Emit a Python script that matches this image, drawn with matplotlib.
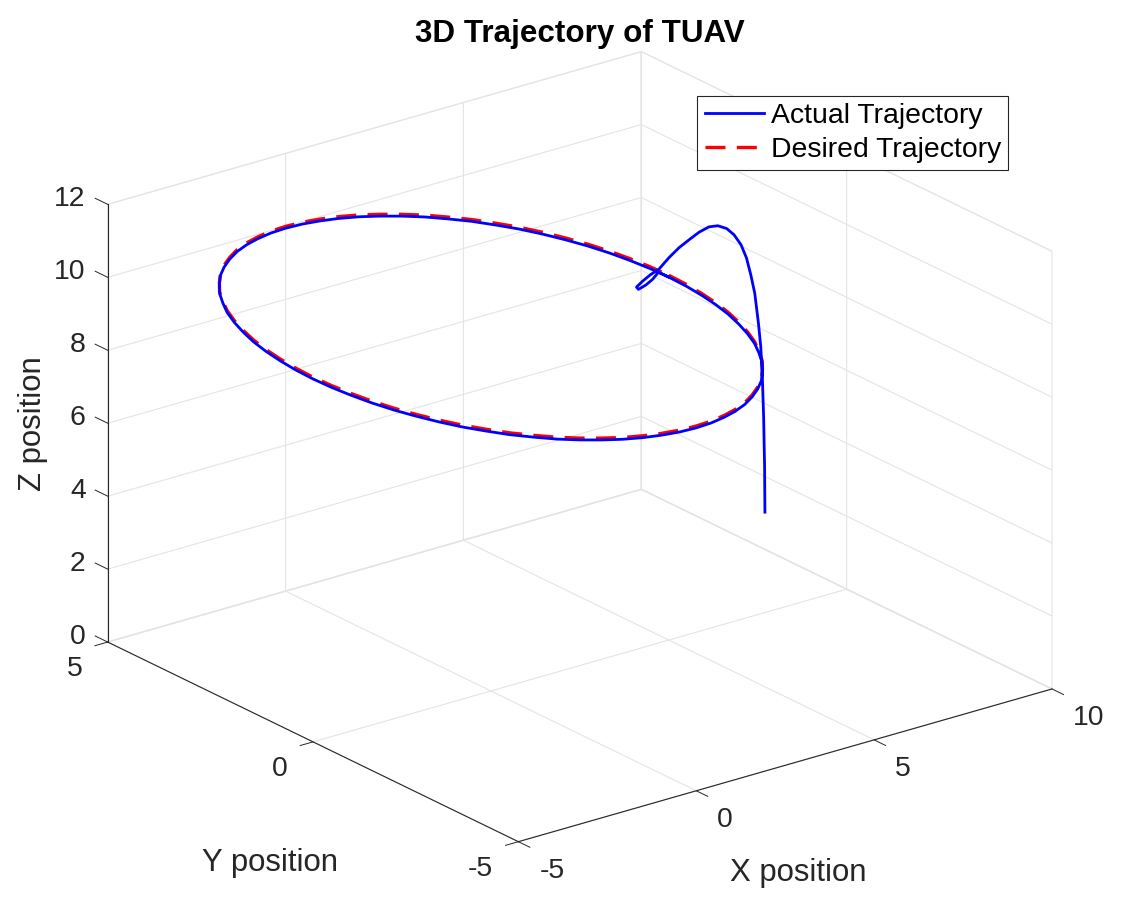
import numpy as np
import matplotlib
matplotlib.use("Agg")
import matplotlib.pyplot as plt
from matplotlib.transforms import ScaledTranslation
from mpl_toolkits.mplot3d import Axes3D

plt.rcParams['font.family'] = ['Liberation Sans', 'DejaVu Sans']
plt.rcParams['axes.unicode_minus'] = False

# desired circle
desired_x = [5, 4.98, 4.92, 4.83, 4.70, 4.53, 4.33, 4.10, 3.83, 3.54, 3.21, 2.87, 2.50, 2.11, 1.71, 1.29, 0.87, 0.44,
             0, -0.44, -0.87, -1.29, -1.71, -2.11, -2.50, -2.87, -3.21, -3.54, -3.83, -4.10, -4.33, -4.53, -4.70, -4.83, -4.92, -4.98,
             -5, -4.98, -4.92, -4.83, -4.70, -4.53, -4.33, -4.10, -3.83, -3.54, -3.21, -2.87, -2.50, -2.11, -1.71, -1.29, -0.87, -0.44,
             0, 0.44, 0.87, 1.29, 1.71, 2.11, 2.50, 2.87, 3.21, 3.54, 3.83, 4.10, 4.33, 4.53, 4.70, 4.83, 4.92, 4.98, 5]
desired_y = [0, -0.44, -0.87, -1.29, -1.71, -2.11, -2.50, -2.87, -3.21, -3.54, -3.83, -4.10, -4.33, -4.53, -4.70, -4.83, -4.92, -4.98,
             -5, -4.98, -4.92, -4.83, -4.70, -4.53, -4.33, -4.10, -3.83, -3.54, -3.21, -2.87, -2.50, -2.11, -1.71, -1.29, -0.87, -0.44,
             0, 0.44, 0.87, 1.29, 1.71, 2.11, 2.50, 2.87, 3.21, 3.54, 3.83, 4.10, 4.33, 4.53, 4.70, 4.83, 4.92, 4.98,
             5, 4.98, 4.92, 4.83, 4.70, 4.53, 4.33, 4.10, 3.83, 3.54, 3.21, 2.87, 2.50, 2.11, 1.71, 1.29, 0.87, 0.44, 0]
desired_z = [10] * len(desired_x)

# climb to the circle, with the small hook at the end
climb_x = [9.63, 9.54, 9.49, 9.48, 9.34, 9.09, 8.79, 8.46, 8.20, 7.92, 7.63, 7.46, 7.14, 6.81, 6.44, 6.13, 5.78, 5.37, 4.90,
           4.64, 4.32, 4.00, 3.95, 4.24, 4.57, 5.00]
climb_y = [1.67, 1.60, 1.58, 1.60, 1.52, 1.36, 1.19, 1.00, 0.88, 0.77, 0.69, 0.72, 0.66, 0.59, 0.51, 0.48, 0.43, 0.32, 0.16,
           0.13, 0.05, -0.08, -0.17, -0.10, 0.02, 0.25]
climb_z = [1.3, 2.6, 4, 5, 6, 6.8, 7.8, 8.5, 9.1, 9.6, 10, 10.2, 10.4, 10.5, 10.5, 10.4, 10.3, 10.2, 10.1,
           10.05, 10, 10, 10, 10, 10, 9.95]

# actual path sits a touch under the desired one
track_z = [9.95] * len(desired_x)
actual_x = climb_x + desired_x
actual_y = climb_y + desired_y
actual_z = climb_z + track_z

x_ticks = [-5, 0, 5, 10]
y_ticks = [-5, 0, 5]
z_ticks = [0, 2, 4, 6, 8, 10, 12]

W, H = 1121, 909
fig = plt.figure(figsize=(W / 100, H / 100), dpi=100, facecolor='white')

# square axes around the box, bigger than the figure
side = 1032
cx, cy = 565.9, 460.6
ax = fig.add_axes([(cx - side / 2) / W, (H - cy - side / 2) / H, side / W, side / H],
                  projection='3d', computed_zorder=False)
ax.patch.set_alpha(0)
ax.set_proj_type('ortho')
ax.view_init(elev=21.9, azim=-127.5)
ax.set_box_aspect((673, 675, 472))

ax.plot(desired_x, desired_y, desired_z, color='red', lw=2.4, ls=(0, (6.0, 3.4)), label='Desired Trajectory', zorder=3)
ax.plot(actual_x, actual_y, actual_z, color='blue', lw=2.0, label='Actual Trajectory', zorder=4)

ax.set_xlim(-5, 10, view_margin=0)
ax.set_ylim(-5, 5, view_margin=0)
ax.set_zlim(0, 12, view_margin=0)
ax.set_xticks(x_ticks)
ax.set_yticks(y_ticks)
ax.set_zticks(z_ticks)

# z ticks run along y, like matlab; the factor that points away from the box differs per axis
ax.zaxis._get_tickdir = lambda position: 1
tick_factors = ((ax.xaxis, 0.35, 0), (ax.yaxis, 0.30, 0), (ax.zaxis, 0, 0.38))
for axis, inward, outward in tick_factors:
    axis.pane.set_facecolor((1, 1, 1, 0))
    axis.pane.set_edgecolor('#e0e0e0')
    axis.line.set_color('#262626')
    axis.line.set_linewidth(0.8)
    axis._axinfo['grid'].update(color='#e4e4e4', linewidth=0.8, linestyle='-')
    axis._axinfo['tick'].update(inward_factor=inward, outward_factor=outward)
    axis._axinfo['tick']['linewidth'] = {True: 0.7, False: 0.7}

for name in ('x', 'y', 'z'):
    ax.tick_params(axis=name, labelsize=20.4, labelcolor='#262626', color='#262626', pad=8)


# Axis3D resets the label transform whenever it fetches its ticks, so wrap that call
def nudge_labels(axis, align, dx, dy):
    base = axis.get_major_ticks
    shift = ScaledTranslation(dx / 100, dy / 100, fig.dpi_scale_trans)

    def shifted(numticks=None):
        ticks = base(numticks)
        for tick in ticks:
            tick.label1.set_ha(align)
            tick.label1.set_transform(ax.transData + shift)
        return ticks
    axis.get_major_ticks = shifted


nudge_labels(ax.xaxis, 'left', 4, 10)
nudge_labels(ax.yaxis, 'right', -3, 10.5)
nudge_labels(ax.zaxis, 'right', 17, 16.5)

ax.set_title('3D Trajectory of TUAV', fontsize=22.6, fontweight='bold', x=0.5136, y=0.984, pad=0)

fig.text(798 / W, 1 - 873 / H, 'X position', fontsize=22.4, color='#262626', ha='center', va='center')
fig.text(270 / W, 1 - 863 / H, 'Y position', fontsize=22.4, color='#262626', ha='center', va='center')
fig.text(33 / W, 1 - 424 / H, 'Z position', fontsize=22.4, color='#262626', ha='center', va='center', rotation=90)

handles, labels = ax.get_legend_handles_labels()
leg = fig.legend(handles[::-1], labels[::-1], loc='upper left', bbox_to_anchor=(697.5 / W, 1 - 96 / H), borderaxespad=0,
                 fontsize=20.4, fancybox=False, framealpha=1, edgecolor='#262626', handlelength=2.1,
                 handletextpad=0.22, borderpad=0.26, labelspacing=0.26)
leg.get_frame().set_linewidth(0.8)

fig.savefig('out.png', dpi=100)
